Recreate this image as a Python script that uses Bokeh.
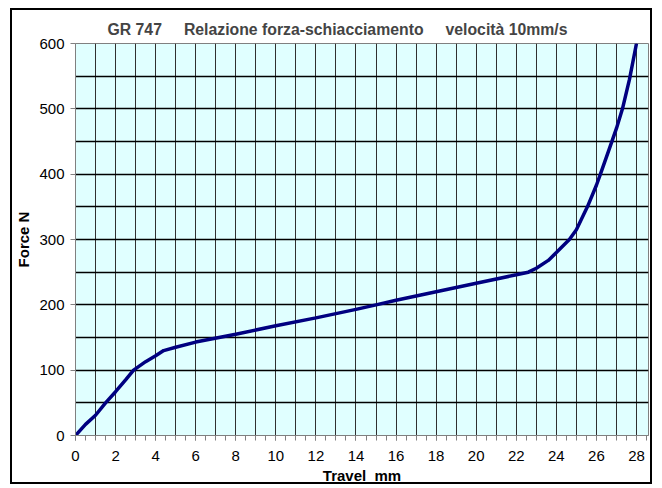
from bokeh.plotting import figure
from bokeh.embed import file_html
from bokeh.resources import INLINE
from bokeh.models import SingleIntervalTicker

# ---- data ----
travel_mm = [0, 0.5, 1.0, 1.5, 2.0, 2.5, 2.9, 3.5, 4.0, 4.4, 5, 6, 8, 10, 12, 14, 15, 16,
             18, 20, 22, 22.6, 23, 23.6, 24, 24.65, 25, 25.55, 26, 26.2, 26.6, 27, 27.3,
             27.65, 28]
force_n = [0, 17, 31, 50, 67, 85, 100, 113, 122, 130, 135, 143, 155, 168, 180, 193, 200, 207,
           220, 233, 246, 250, 256, 268, 280, 300, 315, 350, 383, 400, 435, 470, 500,
           545, 600]

title_text = "GR 747\u00a0\u00a0\u00a0\u00a0 Relazione forza-schiacciamento\u00a0\u00a0\u00a0\u00a0 velocità 10mm/s"
x_label = "Travel\u00a0 mm"
y_label = "Force N"

p = figure(width=642, height=476, x_range=(0, 28.6), y_range=(0, 600),
           output_backend="svg", toolbar_location=None,
           min_border_left=61, min_border_right=6, min_border_top=33, min_border_bottom=50)
p.margin = (8, 0, 0, 10)
p.styles = {"border": "2px solid black"}

p.title.text = title_text
p.title.align = "left"
p.title.offset = 32
p.title.text_font = "Liberation Sans"
p.title.text_font_size = "15.8px"
p.title.text_font_style = "bold"
p.title.standoff = 12

p.background_fill_color = "#E0FFFF"
p.border_fill_color = "white"
p.outline_line_color = "#808080"

p.line(travel_mm, force_n, line_color="#000080", line_width=3.5)

p.xaxis.ticker = SingleIntervalTicker(interval=2, num_minor_ticks=4)
p.xaxis.axis_label = x_label
p.yaxis.ticker = SingleIntervalTicker(interval=100, num_minor_ticks=0)
p.yaxis.axis_label = y_label

for ax in (p.xaxis, p.yaxis):
    ax.axis_line_color = "#808080"
    ax.major_tick_line_color = "#808080"
    ax.minor_tick_line_color = "#808080"
    ax.major_tick_in = 0
    ax.major_tick_out = 5
    ax.minor_tick_in = 0
    ax.minor_tick_out = 5
    ax.major_label_text_font = "Liberation Sans"
    ax.major_label_text_font_size = "15px"
    ax.major_label_text_color = "black"
    ax.axis_label_text_font = "Liberation Sans"
    ax.axis_label_text_font_size = "15px"
    ax.axis_label_text_font_style = "bold"
    ax.axis_label_text_color = "black"

p.xaxis.major_label_standoff = 10
p.xaxis.axis_label_standoff = 3
p.yaxis.major_label_standoff = 6
p.yaxis.axis_label_standoff = 4
p.yaxis.minor_tick_line_color = None

p.xgrid.ticker = SingleIntervalTicker(interval=1)
p.ygrid.ticker = SingleIntervalTicker(interval=50)
p.xgrid.grid_line_color = "#303030"
p.xgrid.grid_line_width = 1
p.ygrid.grid_line_color = "black"
p.ygrid.grid_line_width = 1.3

open("out.html", "w").write(file_html(p, INLINE))
